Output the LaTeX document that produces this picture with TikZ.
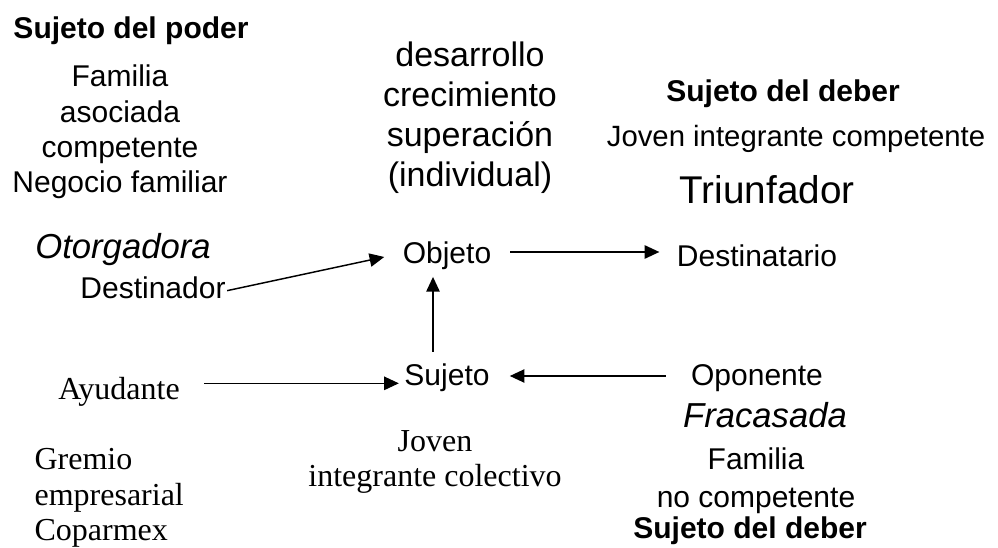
\documentclass[tikz,border=0pt]{standalone}
\usepackage{fontspec}
\setmainfont{Liberation Sans}
\newfontfamily\timesfont{Liberation Serif}
\usetikzlibrary{arrows.meta,positioning}

\begin{document}
\begin{tikzpicture}[
                x=0.75pt, y=-0.75pt,
                every node/.style={inner sep=1pt},
                actant/.style={font=\fontsize{22.5}{26.5}\selectfont, align=center},
                rolebold/.style={font=\fontsize{22.5}{26.5}\selectfont\bfseries},
                quality/.style={font=\fontsize{26}{30}\selectfont\itshape},
                gloss/.style={font=\timesfont\fontsize{24}{26.5}\selectfont, align=center},
                link/.style={-{Triangle[length=11pt,width=10pt]}, line width=1.1pt}
            ]
                % Page frame
                \useasboundingbox (0,0) rectangle (998,548);

                % Actants
                \node[actant] (objeto) at (447,256) {Objeto};
                \node[actant] (destinatario) at (757,256) {Destinatario};
                \node[actant] (destinador) at (153,288) {Destinador};
                \node[actant] (sujeto) at (447,378) {Sujeto};
                \node[actant] (oponente) at (757,378) {Oponente};
                \node[gloss] (ayudante) at (119,392) {Ayudante};

                % Upper left: power side
                \node[rolebold] (poder) at (131,31) {Sujeto del poder};
                \node[actant] (familiaA) at (120,132) {Familia\\asociada\\competente\\Negocio familiar};
                \node[quality] (otorgadora) at (123,250) {Otorgadora};

                % Object values
                \node[actant, font=\fontsize{25.5}{30}\selectfont] (valores) at (470,118) {desarrollo\\crecimiento\\superación\\(individual)};

                % Upper right: receiver
                \node[rolebold] (deberA) at (783,94) {Sujeto del deber};
                \node[actant, font=\fontsize{22}{26}\selectfont] (joven) at (796,139) {Joven integrante competente};
                \node[actant, font=\fontsize{29}{32}\selectfont] (triunfador) at (767,190) {Triunfador};

                % Lower right: opponent
                \node[quality] (fracasada) at (765,415) {Fracasada};
                \node[actant, font=\fontsize{22.5}{28.5}\selectfont] (familiaB) at (756,481) {Familia\\no competente};
                \node[rolebold] (deberB) at (750,531) {Sujeto del deber};

                % Lower left and middle: helper, subject
                \node[gloss, align=left, anchor=west] (gremio) at (33,498) {Gremio\\empresarial\\Coparmex};
                \node[gloss] (colectivo) at (435,462) {Joven\\integrante colectivo};

                % Connectors
                \coordinate (helpin) at ([yshift=-4pt]sujeto.west);
                \coordinate (opposein) at ([yshift=1.5pt]sujeto.east);
                \draw[link, shorten >=13pt] ([yshift=-2pt]destinador.east) -- ([yshift=2pt]objeto.west);
                \draw[link, shorten <=13pt, shorten >=12pt] ([yshift=3pt]objeto.east) -- ([yshift=3pt]destinatario.west);
                \draw[link, shorten <=8pt, shorten >=4pt] ([xshift=-10.5pt]sujeto.north) -- ([xshift=-10.5pt]objeto.south);
                \draw[link, shorten <=17pt, shorten >=3pt] (ayudante.east |- helpin) -- (helpin);
                \draw[link, shorten <=18pt, shorten >=14pt] (oponente.west |- opposein) -- (opposein);
            \end{tikzpicture}
\end{document}
